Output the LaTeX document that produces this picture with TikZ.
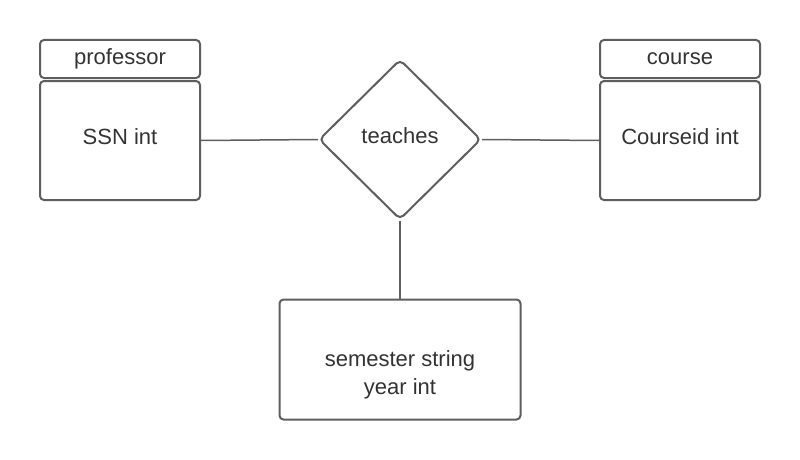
\documentclass[tikz,border=0pt]{standalone}
\usepackage{fontspec}
\setmainfont{Liberation Sans}
\usetikzlibrary{shapes.geometric}
\definecolor{edge}{HTML}{5E5E5E}
\definecolor{ink}{HTML}{333333}
\begin{document}
\begin{tikzpicture}[x=1pt,y=-1pt,
  every node/.style={inner sep=0pt},
  txt/.style={text=ink,font=\fontsize{22}{28}\selectfont,anchor=base},
  entbox/.style={draw=edge,line width=2pt,rounded corners=4pt,fill=white},
  relbox/.style={draw=edge,line width=2pt,shape=diamond,rounded corners=5pt,
    minimum width=162pt,minimum height=160pt,fill=white},
  link/.style={draw=edge,line width=1.5pt}]
\useasboundingbox (0,0) rectangle (800,460);
% professor entity
\node[entbox,minimum width=160pt,minimum height=38pt] (profhead) at (120,59) {};
\node[entbox,minimum width=160pt,minimum height=119pt] (profbody) at (120,140.5) {};
\node[txt] (proflabel) at (120,64) {professor};
\node[txt] (profkey) at (120,144) {SSN int};
% course entity
\node[entbox,minimum width=160pt,minimum height=38pt] (coursehead) at (680,59) {};
\node[entbox,minimum width=160pt,minimum height=119pt] (coursebody) at (680,140.5) {};
\node[txt] (courselabel) at (680,64) {course};
\node[txt] (coursekey) at (680,144) {Courseid int};
% relationship
\node[relbox] (teaches) at (400,139.5) {};
\node[txt] (teacheslabel) at (400,143) {teaches};
% attributes of the relationship
\node[entbox,minimum width=241pt,minimum height=120pt] (attrs) at (400,359.5) {};
\node[txt] (attr1) at (400,366) {semester string};
\node[txt] (attr2) at (400,394) {year int};
% connectors
\draw[link] (profbody.east) -- (teaches.west);
\draw[link] (teaches.east) -- (coursebody.west);
\draw[link] (teaches.south) -- (attrs.north);
\end{tikzpicture}
\end{document}
